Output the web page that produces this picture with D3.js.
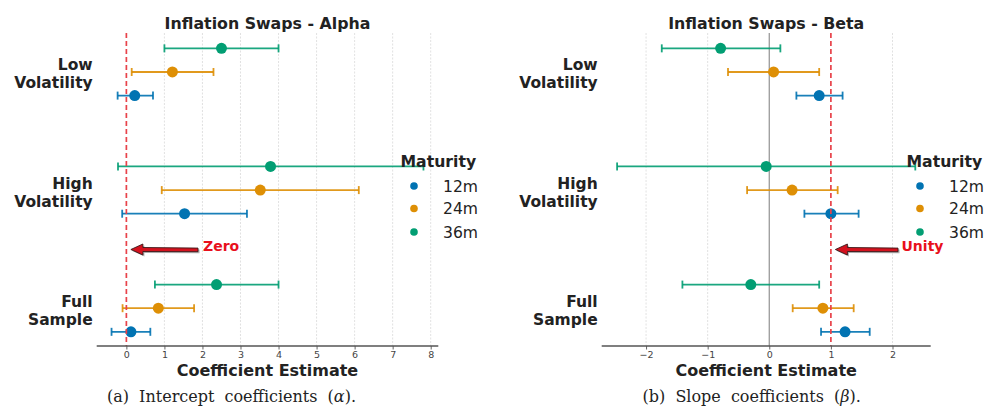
<!DOCTYPE html>
<html><head><meta charset="utf-8">
<script src="https://cdn.jsdelivr.net/npm/d3@7"></script>
<style>body{margin:0;background:#fff}svg{display:block}</style>
</head><body>
<svg id="c" width="985" height="408"></svg>
<script>
// ---------- data ----------
const groups = ["Full Sample", "High Volatility", "Low Volatility"]; // bottom -> top
const groupLines = [["Full", "Sample"], ["High", "Volatility"], ["Low", "Volatility"]];
const maturities = ["12m", "24m", "36m"];
const colors = ["#0173B2", "#DE8F05", "#029E73"];
const offsets = [-0.2, 0, 0.2];

// Alpha (intercept): [group][maturity]
const alphaEst = [[0.12, 0.84, 2.37], [1.53, 3.52, 3.79], [0.22, 1.21, 2.50]];
const alphaLo  = [[-0.39, -0.10, 0.75], [-0.11, 0.93, -0.22], [-0.23, 0.14, 1.00]];
const alphaHi  = [[0.63, 1.78, 4.00], [3.17, 6.11, 7.81], [0.70, 2.29, 4.00]];

// Beta (slope)
const betaEst = [[1.23, 0.87, -0.30], [1.00, 0.37, -0.05], [0.81, 0.07, -0.79]];
const betaLo  = [[0.84, 0.38, -1.41], [0.57, -0.36, -2.47], [0.44, -0.67, -1.745]];
const betaHi  = [[1.63, 1.37, 0.81], [1.45, 1.11, 2.37], [1.19, 0.81, 0.18]];

const alphaTicks = [0, 1, 2, 3, 4, 5, 6, 7, 8];
const betaTicks = [-2, -1, 0, 1, 2];

const svg = d3.select("#c");
const y = d3.scaleLinear().domain([-0.32, 2.33]).range([346, 33]);

function panel(cfg) {
  const x = d3.scaleLinear().domain(cfg.domain).range(cfg.range);
  const g = svg.append("g");
  const top = y.range()[1], bot = y.range()[0];
  // grid
  g.selectAll(".grid").data(cfg.ticks.filter(t => !cfg.skipGrid.includes(t))).join("line")
    .attr("x1", d => x(d)).attr("x2", d => x(d)).attr("y1", top).attr("y2", bot)
    .attr("stroke", "#d9d9d9").attr("stroke-width", 0.8).attr("stroke-dasharray", "2,1.5");
  if (cfg.zeroLine) {
    g.append("line").attr("x1", x(0)).attr("x2", x(0)).attr("y1", top).attr("y2", bot)
      .attr("stroke", "#9a9a9a").attr("stroke-width", 1.3);
  }
  // error bars
  groups.forEach((grp, gi) => {
    maturities.forEach((m, mi) => {
      const yy = y(gi + offsets[mi]);
      const lo = x(cfg.lo[gi][mi]), hi = x(cfg.hi[gi][mi]), est = x(cfg.est[gi][mi]);
      const c = colors[mi];
      g.append("line").attr("x1", lo).attr("x2", hi).attr("y1", yy).attr("y2", yy)
        .attr("stroke", c).attr("stroke-width", 1.8).attr("opacity", 0.9);
      [lo, hi].forEach(xx => g.append("line").attr("x1", xx).attr("x2", xx)
        .attr("y1", yy - 4).attr("y2", yy + 4).attr("stroke", c).attr("stroke-width", 1.8).attr("opacity", 0.9));
      g.append("circle").attr("cx", est).attr("cy", yy).attr("r", 5.5).attr("fill", c);
    });
  });
  // reference line
  g.append("line").attr("x1", x(cfg.ref)).attr("x2", x(cfg.ref)).attr("y1", top).attr("y2", bot)
    .attr("stroke", "#e8434a").attr("stroke-width", 1.7).attr("stroke-dasharray", "5,3");
  // axis
  const ax = g.append("g").attr("transform", `translate(0,${bot})`)
    .call(d3.axisBottom(x).tickValues(cfg.ticks).tickSize(3.5).tickPadding(2)
      .tickFormat(d => d < 0 ? "\u2212" + Math.abs(d) : d));
  ax.select(".domain").attr("stroke", "#555").attr("stroke-width", 1.4).attr("d", `M${cfg.range[0]},0H${cfg.range[1]}`);
  ax.selectAll(".tick line").attr("stroke", "#555").attr("stroke-width", 0.9);
  ax.selectAll(".tick text").attr("fill", "#444").attr("font-size", 9.5)
    .attr("font-family", "DejaVu Sans");
  // group labels
  groupLines.forEach((lines, gi) => {
    const t = g.append("text").attr("text-anchor", "end").attr("font-family", "DejaVu Sans")
      .attr("font-weight", "bold").attr("font-size", 15.5).attr("fill", "#222");
    t.append("tspan").attr("x", cfg.labelX).attr("y", y(gi) - 7 + 5.5).text(lines[0]);
    t.append("tspan").attr("x", cfg.labelX).attr("y", y(gi) + 11 + 5.5).text(lines[1]);
  });
  // title
  const cx = (cfg.range[0] + cfg.range[1]) / 2;
  g.append("text").attr("x", cx).attr("y", 28.5).attr("text-anchor", "middle")
    .attr("font-family", "DejaVu Sans").attr("font-weight", "bold").attr("font-size", 15.8)
    .attr("fill", "#222").text(cfg.title);
  g.append("text").attr("x", cx).attr("y", 376).attr("text-anchor", "middle")
    .attr("font-family", "DejaVu Sans").attr("font-weight", "bold").attr("font-size", 16)
    .attr("fill", "#222").text("Coefficient Estimate");
  // legend
  g.append("text").attr("x", cfg.legX).attr("y", 166.5).attr("font-family", "DejaVu Sans")
    .attr("font-weight", "bold").attr("font-size", 15.7).attr("fill", "#222").text("Maturity");
  maturities.forEach((m, mi) => {
    const ly = [186, 208.5, 232][mi];
    g.append("circle").attr("cx", cfg.legX + 13.5).attr("cy", ly).attr("r", 3.8).attr("fill", colors[mi]);
    g.append("text").attr("x", cfg.legX + 42.5).attr("y", ly + 5.5).attr("font-family", "DejaVu Sans")
      .attr("font-size", 15.6).attr("fill", "#222").text(m);
  });
  // arrow annotation
  const tip = x(cfg.ref) + 4.5, tail = cfg.arrowTail, ay = 249.5;
  const path = `M${tip},${ay} L${tip + 12},${ay - 5.5} L${tip + 12},${ay - 2} L${tail},${ay - 1.4} L${tail},${ay + 2.2} L${tip + 12},${ay + 2} L${tip + 12},${ay + 5.5} Z`;
  g.append("path").attr("d", path).attr("transform", "translate(1.5,1.5)").attr("fill", "#777").attr("opacity", 0.6);
  g.append("path").attr("d", path).attr("fill", "#d4121e").attr("stroke", "#3a1a1a").attr("stroke-width", 0.9);
  g.append("text").attr("x", cfg.annX).attr("y", 250.5).attr("font-family", "DejaVu Sans")
    .attr("font-weight", "bold").attr("font-size", 14).attr("fill", "#e8101c").text(cfg.annText);
  // caption
  const cap = g.append("text").attr("x", cfg.capX).attr("y", 402).attr("text-anchor", "middle")
    .attr("font-family", "DejaVu Serif").attr("font-size", 16).attr("word-spacing", 5)
    .attr("fill", "#222");
  cap.append("tspan").text(cfg.capPre);
  cap.append("tspan").attr("font-style", "italic").text(cfg.capSym);
  cap.append("tspan").text(").");
}

panel({
  domain: [-0.78, 8.2], range: [96.7, 438.3], ticks: alphaTicks, skipGrid: [0],
  est: alphaEst, lo: alphaLo, hi: alphaHi, ref: 0, zeroLine: false,
  labelX: 92.7, title: "Inflation Swaps - Alpha", legX: 400.5,
  arrowTail: 198, annX: 203, annText: "Zero",
  capX: 231.5, capPre: "(a) Intercept coefficients (", capSym: "\u03B1"
});
panel({
  domain: [-2.72, 2.62], range: [601.7, 930.7], ticks: betaTicks, skipGrid: [0, 1],
  est: betaEst, lo: betaLo, hi: betaHi, ref: 1, zeroLine: true,
  labelX: 597.7, title: "Inflation Swaps - Beta", legX: 906.5,
  arrowTail: 898, annX: 901.5, annText: "Unity",
  capX: 751.7, capPre: "(b) Slope coefficients (", capSym: "\u03B2"
});
</script>
</body></html>
